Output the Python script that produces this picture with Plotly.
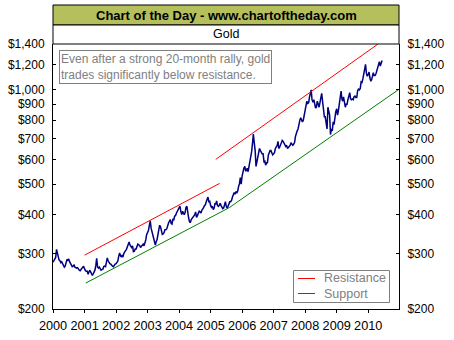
import pandas as pd
import plotly.graph_objects as go

# ---------------- data ----------------
# gold price, three readings per month (about the 1st, 11th and 21st)
gold_2000 = [282, 285, 289, 292, 310, 299, 292, 287, 285, 281, 283, 278,
             276, 272, 274, 285, 288, 286, 289, 283, 279, 276, 273, 274,
             276, 272, 271, 270, 271, 268, 266, 265, 268, 269, 272, 273]
gold_2001 = [268, 265, 264, 264, 258, 261, 266, 263, 258, 256, 259, 262,
             266, 275, 290, 272, 270, 272, 267, 266, 267, 268, 273, 274,
             273, 287, 291, 285, 281, 279, 278, 275, 274, 273, 276, 278]
gold_2002 = [279, 283, 284, 295, 302, 296, 293, 296, 293, 301, 303, 307,
             310, 316, 322, 327, 320, 318, 314, 318, 305, 306, 311, 311,
             316, 322, 320, 319, 314, 316, 318, 322, 318, 323, 332, 345]
gold_2003 = [350, 356, 368, 382, 362, 352, 350, 335, 330, 320, 328, 333,
             345, 356, 370, 365, 356, 346, 347, 350, 358, 358, 360, 370,
             376, 381, 386, 375, 373, 386, 385, 396, 397, 404, 410, 414]
gold_2004 = [420, 426, 410, 400, 410, 402, 400, 406, 422, 425, 402, 390,
             380, 377, 386, 390, 391, 396, 400, 408, 392, 397, 402, 410,
             408, 405, 413, 420, 421, 427, 430, 440, 448, 455, 440, 441]
gold_2005 = [428, 422, 425, 415, 420, 435, 431, 442, 428, 425, 428, 435,
             428, 420, 418, 420, 431, 440, 425, 419, 425, 431, 440, 440,
             445, 455, 468, 470, 465, 472, 470, 476, 492, 502, 525, 500]
gold_2006 = [532, 552, 562, 570, 550, 555, 562, 548, 565, 590, 600, 635,
             675, 722, 680, 640, 570, 590, 620, 642, 650, 640, 630, 625,
             625, 590, 592, 575, 585, 585, 620, 630, 640, 640, 627, 620]
gold_2007 = [625, 630, 650, 660, 665, 685, 650, 655, 665, 677, 690, 685,
             675, 665, 660, 665, 650, 655, 660, 665, 678, 670, 665, 670,
             680, 710, 733, 740, 750, 780, 800, 815, 800, 790, 800, 830]
gold_2008 = [862, 885, 920, 905, 910, 950, 975, 1000, 930, 912, 930, 890,
             875, 880, 920, 900, 880, 910, 935, 975, 920, 880, 820, 820,
             780, 750, 880, 860, 830, 720, 750, 740, 790, 775, 830, 850]
gold_2009 = [870, 830, 860, 910, 940, 990, 940, 920, 950, 910, 880, 900,
             900, 930, 955, 980, 935, 930, 935, 930, 950, 955, 945, 945,
             995, 1005, 1000, 1010, 1060, 1055, 1085, 1115, 1160, 1205, 1130, 1105]
gold_2010 = [1120, 1140, 1090, 1065, 1080, 1110, 1135, 1110, 1110,
             1125, 1150, 1165, 1180, 1230, 1190, 1220, 1240]

reading_days = [1, 11, 21]

resistance_dates = ["2001-01-01", "2005-04-15", None, "2005-03-01", "2010-04-25"]
resistance_values = [297, 503, None, 600, 1400]

support_dates = ["2001-01-15", "2005-08-05", "2010-12-24"]
support_values = [242, 421, 1004]

y_ticks = [200, 300, 400, 500, 600, 700, 800, 900, 1000, 1200, 1400]
y_tick_text = ["$200", "$300", "$400", "$500", "$600", "$700", "$800", "$900",
               "$1,000", "$1,200", "$1,400"]

title_text = "Chart of the Day - www.chartoftheday.com"
subtitle_text = "Gold"
note_text = "Even after a strong 20-month rally, gold<br>trades significantly below resistance."
legend_names = ["Resistance", "Support"]

# ---------------- build series ----------------
gold_values = (gold_2000 + gold_2001 + gold_2002 + gold_2003 + gold_2004 + gold_2005 +
               gold_2006 + gold_2007 + gold_2008 + gold_2009 + gold_2010)
months = pd.date_range("2000-01-01", periods=len(gold_values) // 3 + 1, freq="MS")
gold_dates = []
for m in months:
    for d in reading_days:
        gold_dates.append(m + pd.Timedelta(days=d - 1))
gold_dates = gold_dates[:len(gold_values)]

# ---------------- geometry helpers (pixel -> paper) ----------------
W, H = 454, 340
L, R, T, B = 53, 55, 44, 31
PW, PH = W - L - R, H - T - B


def px(xp):
    return (xp - L) / PW


def py(yp):
    return (H - B - yp) / PH


FONT = "Liberation Sans, Arial, sans-serif"
GRAY = "#808080"
GREEN = "#008000"
RED = "#FF0000"

fig = go.Figure()
fig.add_trace(go.Scatter(x=gold_dates, y=gold_values, mode="lines",
                         line=dict(color="#000080", width=1.5),
                         showlegend=False, hoverinfo="skip"))
fig.add_trace(go.Scatter(x=resistance_dates, y=resistance_values, mode="lines",
                         line=dict(color=RED, width=1), connectgaps=False,
                         showlegend=False, hoverinfo="skip"))
fig.add_trace(go.Scatter(x=support_dates, y=support_values, mode="lines",
                         line=dict(color=GREEN, width=1),
                         showlegend=False, hoverinfo="skip"))
# invisible trace to activate right axis
fig.add_trace(go.Scatter(x=gold_dates[:1], y=gold_values[:1], yaxis="y2", mode="markers",
                         marker=dict(opacity=0), showlegend=False, hoverinfo="skip"))

yax = dict(type="log", range=[2.30103, 3.146128], tickvals=y_ticks, ticktext=y_tick_text,
           ticks="inside", ticklen=3, tickcolor="black", showline=True, linecolor="black",
           linewidth=1, showgrid=False, zeroline=False, automargin=False,
           tickfont=dict(family=FONT, size=12, color="black"), ticklabelstandoff=5)

fig.update_layout(
    template="none",
    width=W, height=H,
    margin=dict(l=L, r=R, t=T, b=B, pad=0, autoexpand=False),
    paper_bgcolor="white", plot_bgcolor="white",
    showlegend=False,
    xaxis=dict(type="date", range=["2000-01-01", "2010-12-24"], tick0="2000-01-01",
               dtick="M12", tickformat="%Y", ticks="outside", ticklen=3, tickcolor="black",
               showline=True, linecolor="black", linewidth=1, showgrid=False, zeroline=False,
               automargin=False,
               tickfont=dict(family=FONT, size=12.7, color="black"), ticklabelstandoff=2),
    yaxis=yax,
    yaxis2=dict(yax, overlaying="y", side="right", anchor="x"),
)

shapes = [
    dict(type="rect", xref="paper", yref="paper", x0=0, x1=1, y0=py(25), y1=py(5),
         fillcolor="#B5BF5C", line=dict(color="black", width=1)),
    dict(type="rect", xref="paper", yref="paper", x0=0, x1=1, y0=1, y1=py(25),
         fillcolor="white", line=dict(color="black", width=1)),
    # legend box
    dict(type="rect", xref="paper", yref="paper", x0=px(293.5), x1=px(389.5),
         y0=py(302.5), y1=py(270.5), fillcolor="white", line=dict(color=GRAY, width=1)),
    dict(type="line", xref="paper", yref="paper", x0=px(298), x1=px(315),
         y0=py(278.5), y1=py(278.5), line=dict(color=RED, width=1)),
    dict(type="line", xref="paper", yref="paper", x0=px(298), x1=px(315),
         y0=py(293.5), y1=py(293.5), line=dict(color=GREEN, width=1)),
]
fig.update_layout(shapes=shapes)

annotations = [
    dict(text="<b>" + title_text + "</b>", xref="paper", yref="paper", x=0.5, y=py(15),
         xanchor="center", yanchor="middle", showarrow=False,
         font=dict(family=FONT, size=13, color="black")),
    dict(text=subtitle_text, xref="paper", yref="paper", x=0.5, y=py(34.5),
         xanchor="center", yanchor="middle", showarrow=False,
         font=dict(family=FONT, size=12.5, color="black")),
    dict(text=note_text, xref="paper", yref="paper", x=px(59), y=py(49.5),
         xanchor="left", yanchor="top", align="left", showarrow=False,
         bordercolor=GRAY, borderwidth=1, borderpad=1, bgcolor="white",
         font=dict(family=FONT, size=12, color=GRAY)),
    dict(text=legend_names[0], xref="paper", yref="paper", x=px(321.5), y=py(278),
         xanchor="left", yanchor="middle", showarrow=False,
         font=dict(family=FONT, size=12.5, color=GRAY)),
    dict(text=legend_names[1], xref="paper", yref="paper", x=px(321.5), y=py(293.5),
         xanchor="left", yanchor="middle", showarrow=False,
         font=dict(family=FONT, size=12.5, color=GRAY)),
]
fig.update_layout(annotations=annotations)

fig.write_html("out.html")
